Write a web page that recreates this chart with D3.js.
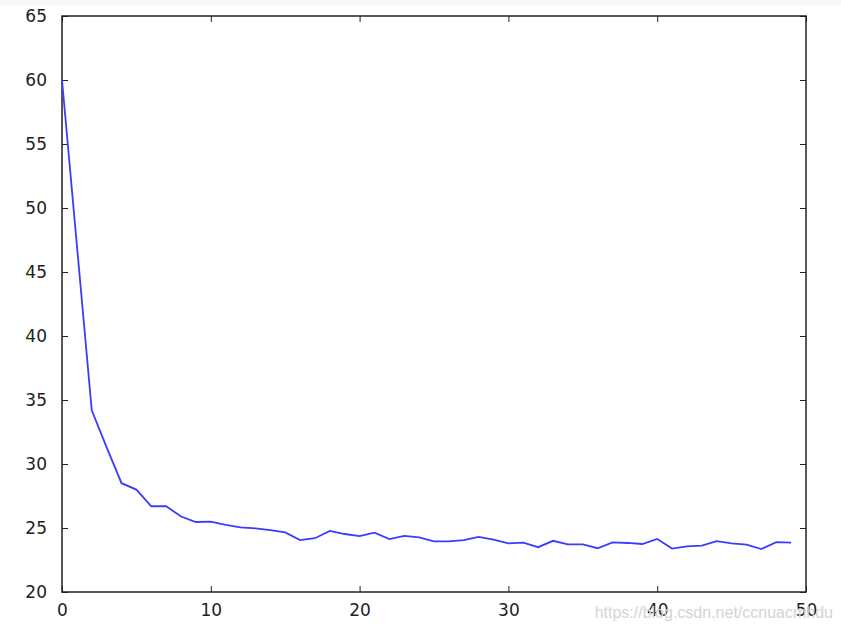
<!DOCTYPE html>
<html>
<head>
<meta charset="utf-8">
<script src="https://cdn.jsdelivr.net/npm/d3@7"></script>
<style>
  body { margin: 0; background: #fff; }
  svg text { font-family: "DejaVu Sans", sans-serif; }
</style>
</head>
<body>
<div id="chart"></div>
<script>
// loss per epoch
var epochs = d3.range(0, 50)
var loss = [60.0, 47.1, 34.2, 31.3, 28.5, 28.0, 26.7, 26.7, 25.9, 25.47,
  25.5, 25.25, 25.05, 24.97, 24.84, 24.66, 24.06, 24.2, 24.77, 24.53,
  24.37, 24.64, 24.14, 24.38, 24.27, 23.96, 23.96, 24.06, 24.3, 24.1,
  23.8, 23.85, 23.5, 24.0, 23.72, 23.72, 23.42, 23.88, 23.83, 23.75,
  24.14, 23.39, 23.57, 23.62, 23.98, 23.8, 23.7, 23.36, 23.9, 23.85]
var xTicks = [0, 10, 20, 30, 40, 50]
var yTicks = [20, 25, 30, 35, 40, 45, 50, 55, 60, 65]

var W = 841, H = 632
var margin = {left: 62, right: 35, top: 16, bottom: 40}

var svg = d3.select('#chart').append('svg')
  .attr('width', W).attr('height', H)

// faint strip at top of the screenshot
svg.append('rect').attr('x', 0).attr('y', 0).attr('width', W).attr('height', 5)
  .attr('fill', '#f7f7f7')

var x = d3.scaleLinear().domain([0, 50]).range([margin.left, W - margin.right])
var y = d3.scaleLinear().domain([20, 65]).range([H - margin.bottom, margin.top])

function styleAxis(g) {
  g.select('.domain').remove()
  g.selectAll('.tick line').attr('stroke', '#222').attr('stroke-width', 1)
  g.selectAll('.tick text').attr('fill', '#222').style('font-size', '17px')
}

// bottom / top / left / right ticks, pointing inward (classic matplotlib)
svg.append('g').attr('transform', 'translate(0,' + y(20) + ')')
  .call(d3.axisBottom(x).tickValues(xTicks).tickSizeInner(-6).tickPadding(12))
  .call(styleAxis)
svg.append('g').attr('transform', 'translate(0,' + y(65) + ')')
  .call(d3.axisTop(x).tickValues(xTicks).tickSizeInner(-6).tickFormat(''))
  .call(styleAxis)
svg.append('g').attr('transform', 'translate(' + x(0) + ',0)')
  .call(d3.axisLeft(y).tickValues(yTicks).tickSizeInner(-6).tickPadding(15))
  .call(styleAxis)
svg.append('g').attr('transform', 'translate(' + x(50) + ',0)')
  .call(d3.axisRight(y).tickValues(yTicks).tickSizeInner(-6).tickFormat(''))
  .call(styleAxis)

// frame
svg.append('rect')
  .attr('x', x(0)).attr('y', y(65))
  .attr('width', x(50) - x(0)).attr('height', y(20) - y(65))
  .attr('fill', 'none').attr('stroke', '#222').attr('stroke-width', 1.5)

var line = d3.line()
  .x(function(d, i) { return x(epochs[i]) })
  .y(function(d) { return y(d) })

svg.append('path')
  .datum(loss)
  .attr('d', line)
  .attr('fill', 'none')
  .attr('stroke', '#3c3cff')
  .attr('stroke-width', 1.8)

// watermark (sits over the last tick labels, as in the screenshot)
svg.append('text')
  .attr('x', 833).attr('y', 618)
  .attr('text-anchor', 'end')
  .attr('fill', '#d4d4d4')
  .style('font-family', 'Arial, "Liberation Sans", sans-serif')
  .style('font-size', '16px')
  .text('https://blog.csdn.net/ccnuacmhdu')
</script>
</body>
</html>
